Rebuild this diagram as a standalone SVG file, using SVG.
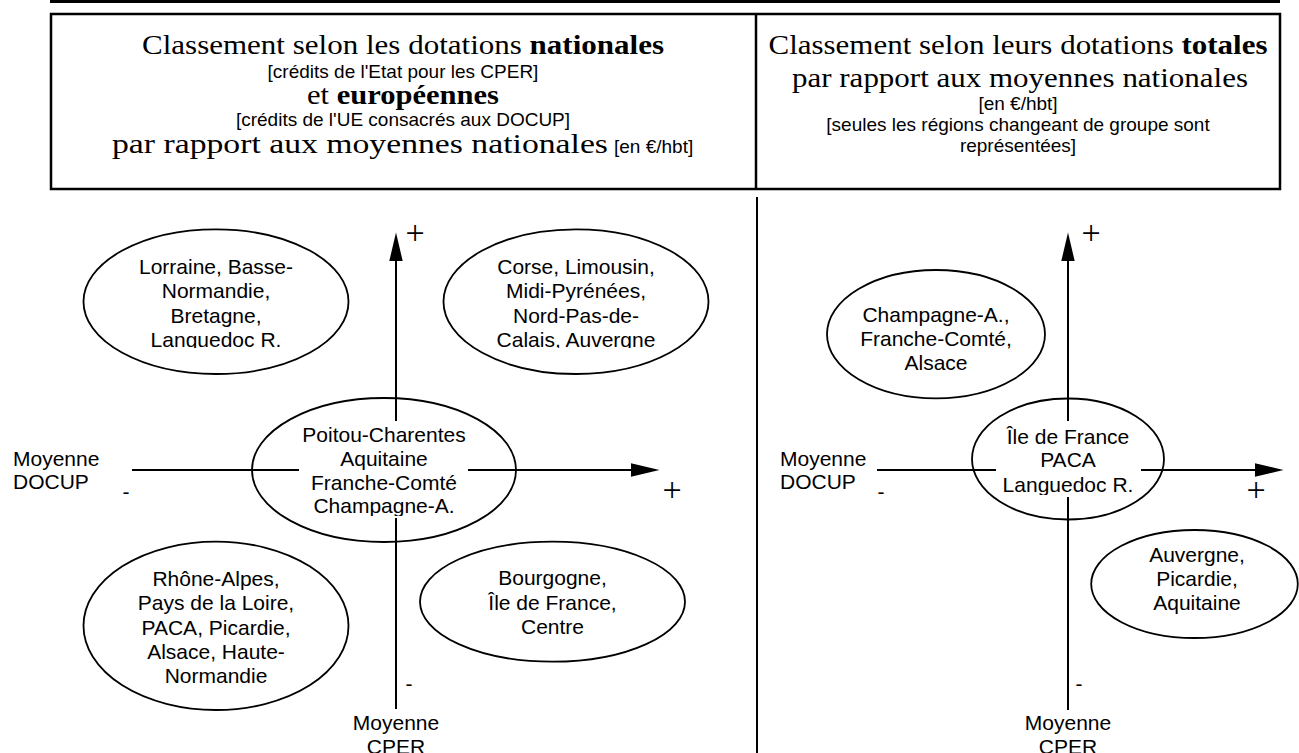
<svg xmlns="http://www.w3.org/2000/svg" width="1299" height="753" viewBox="0 0 1299 753">
<style>
.ln{stroke:#000;stroke-width:2;fill:none}
.ell{stroke:#000;stroke-width:1.8;fill:none}
.t{font-family:"Liberation Sans",Arial,sans-serif;font-size:21px;fill:#000;text-anchor:middle}
.tl{font-family:"Liberation Sans",Arial,sans-serif;font-size:21px;fill:#000}
.hs{font-family:"Liberation Sans",Arial,sans-serif;font-size:19px;fill:#000;text-anchor:middle}
.hr{font-family:"Liberation Serif","Times New Roman",serif;font-size:28px;fill:#000;text-anchor:middle}
.hrl{font-family:"Liberation Serif","Times New Roman",serif;font-size:28px;fill:#000}
.hsl{font-family:"Liberation Sans",Arial,sans-serif;font-size:19px;fill:#000}
.b{font-weight:bold}
.pl{font-family:"Liberation Serif","Times New Roman",serif;font-size:34px;fill:#000;text-anchor:middle}
</style>
<defs>
<marker id="ah" markerUnits="userSpaceOnUse" markerWidth="30" markerHeight="14" refX="0" refY="6.7" orient="auto">
<path d="M0,0 L28.5,6.7 L0,13.4 z" fill="#000"/>
</marker>
<clipPath id="cLor"><rect x="80" y="240" width="270" height="108"/></clipPath>
<clipPath id="cCor"><rect x="440" y="240" width="270" height="108"/></clipPath>
<clipPath id="cPoi"><rect x="250" y="420" width="270" height="96"/></clipPath>
<clipPath id="cIle"><rect x="970" y="420" width="200" height="75"/></clipPath>
</defs>

<g id="header">
<line x1="50" y1="1.5" x2="1280" y2="1.5" stroke="#000" stroke-width="3"/>
<rect x="51" y="14" width="1229" height="175" fill="none" stroke="#000" stroke-width="2.5"/>
<line x1="756" y1="14" x2="756" y2="189" stroke="#000" stroke-width="2.5"/>
<text class="hr" x="403" y="54" textLength="522" lengthAdjust="spacingAndGlyphs">Classement selon les dotations <tspan class="b">nationales</tspan></text>
<text class="hs" x="403" y="78">[crédits de l'Etat pour les CPER]</text>
<text class="hr" x="403" y="104" textLength="192" lengthAdjust="spacingAndGlyphs">et <tspan class="b">européennes</tspan></text>
<text class="hs" x="403" y="126">[crédits de l'UE consacrés aux DOCUP]</text>
<text class="hrl" x="112" y="153" textLength="496" lengthAdjust="spacingAndGlyphs">par rapport aux moyennes nationales</text>
<text class="hsl" x="614" y="153">[en €/hbt]</text>
<text class="hr" x="1018" y="54" textLength="499" lengthAdjust="spacingAndGlyphs">Classement selon leurs dotations <tspan class="b">totales</tspan></text>
<text class="hr" x="1020" y="87" textLength="456" lengthAdjust="spacingAndGlyphs">par rapport aux moyennes nationales</text>
<text class="hs" x="1018" y="110">[en €/hbt]</text>
<text class="hs" x="1018" y="131">[seules les régions changeant de groupe sont</text>
<text class="hs" x="1018" y="152">représentées]</text>
</g>

<g id="connectors">
<line class="ln" x1="757" y1="197" x2="757" y2="753"/>
<line class="ln" x1="396" y1="421" x2="396" y2="261" marker-end="url(#ah)"/>
<line class="ln" x1="396" y1="518" x2="396" y2="709"/>
<line class="ln" x1="132" y1="470" x2="299" y2="470"/>
<line class="ln" x1="468" y1="470" x2="631" y2="470" marker-end="url(#ah)"/>
<line class="ln" x1="1068" y1="421" x2="1068" y2="261" marker-end="url(#ah)"/>
<line class="ln" x1="1068" y1="497" x2="1068" y2="710"/>
<line class="ln" x1="877" y1="470" x2="996" y2="470"/>
<line class="ln" x1="1141" y1="470" x2="1255" y2="470" marker-end="url(#ah)"/>
</g>

<g id="axis-labels">
<text class="pl" x="415" y="244">+</text>
<text class="pl" x="672" y="501">+</text>
<text class="t" x="126" y="499">-</text>
<text class="t" x="409" y="691">-</text>
<text class="tl" x="13" y="466">Moyenne</text>
<text class="tl" x="13" y="489">DOCUP</text>
<text class="t" x="396" y="730">Moyenne</text>
<text class="t" x="396" y="754">CPER</text>
<text class="pl" x="1091" y="244">+</text>
<text class="pl" x="1256" y="501">+</text>
<text class="t" x="881" y="499">-</text>
<text class="t" x="1079" y="691">-</text>
<text class="tl" x="780" y="466">Moyenne</text>
<text class="tl" x="780" y="489">DOCUP</text>
<text class="t" x="1068" y="730">Moyenne</text>
<text class="t" x="1068" y="754">CPER</text>
</g>

<g id="n-lorraine">
<ellipse class="ell" cx="216" cy="301.7" rx="132.5" ry="72.3"/>
<g clip-path="url(#cLor)">
<text class="t" x="216" y="274">Lorraine, Basse-</text>
<text class="t" x="216" y="298">Normandie,</text>
<text class="t" x="216" y="322.5">Bretagne,</text>
<text class="t" x="216" y="346.5">Languedoc R.</text>
</g>
</g>

<g id="n-corse">
<ellipse class="ell" cx="576" cy="301.7" rx="132.5" ry="72.3"/>
<g clip-path="url(#cCor)">
<text class="t" x="576" y="274">Corse, Limousin,</text>
<text class="t" x="576" y="298">Midi-Pyrénées,</text>
<text class="t" x="576" y="322.5">Nord-Pas-de-</text>
<text class="t" x="576" y="346.5">Calais, Auvergne</text>
</g>
</g>

<g id="n-poitou">
<ellipse class="ell" cx="384" cy="470" rx="132" ry="72"/>
<g clip-path="url(#cPoi)">
<text class="t" x="384" y="442">Poitou-Charentes</text>
<text class="t" x="384" y="466">Aquitaine</text>
<text class="t" x="384" y="489.5">Franche-Comté</text>
<text class="t" x="384" y="513">Champagne-A.</text>
</g>
</g>

<g id="n-rhone">
<ellipse class="ell" cx="216" cy="625.8" rx="132.5" ry="84.2"/>
<text class="t" x="216" y="586">Rhône-Alpes,</text>
<text class="t" x="216" y="610">Pays de la Loire,</text>
<text class="t" x="216" y="634.5">PACA, Picardie,</text>
<text class="t" x="216" y="658.5">Alsace, Haute-</text>
<text class="t" x="216" y="682.5">Normandie</text>
</g>

<g id="n-bourgogne">
<ellipse class="ell" cx="552.5" cy="601.7" rx="132.5" ry="60"/>
<text class="t" x="552.5" y="585">Bourgogne,</text>
<text class="t" x="552.5" y="609.5">Île de France,</text>
<text class="t" x="552.5" y="634">Centre</text>
</g>

<g id="n-champagne">
<ellipse class="ell" cx="936" cy="334.2" rx="109" ry="64.2"/>
<text class="t" x="936" y="322">Champagne-A.,</text>
<text class="t" x="936" y="346">Franche-Comté,</text>
<text class="t" x="936" y="370">Alsace</text>
</g>

<g id="n-iledefrance">
<ellipse class="ell" cx="1068" cy="459" rx="96" ry="60.5"/>
<g clip-path="url(#cIle)">
<text class="t" x="1068" y="443.5">Île de France</text>
<text class="t" x="1068" y="467">PACA</text>
<text class="t" x="1068" y="491.5">Languedoc R.</text>
</g>
</g>

<g id="n-auvergne">
<ellipse class="ell" cx="1194.5" cy="584" rx="103.3" ry="54"/>
<text class="t" x="1197" y="561.5">Auvergne,</text>
<text class="t" x="1197" y="585.5">Picardie,</text>
<text class="t" x="1197" y="609.5">Aquitaine</text>
</g>
</svg>
